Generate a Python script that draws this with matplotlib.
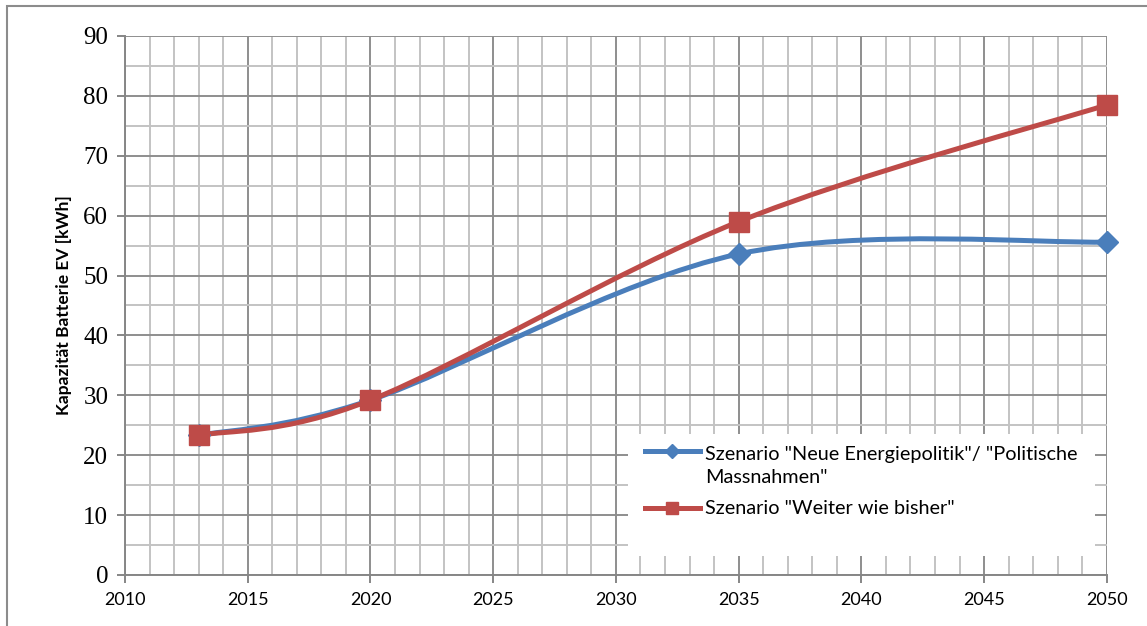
import matplotlib
matplotlib.use("Agg")
import matplotlib.pyplot as plt
from matplotlib.path import Path
from matplotlib.patches import PathPatch, Rectangle
from matplotlib.lines import Line2D

years = [2013, 2020, 2035, 2050]
neue_energiepolitik = [23.3, 29.2, 53.6, 55.6]
weiter_wie_bisher = [23.3, 29.2, 59.0, 78.5]

label_blue = 'Szenario "Neue Energiepolitik"/ "Politische\nMassnahmen"'
label_red = 'Szenario "Weiter wie bisher"'

blue = "#4a7ebb"
red = "#be4b48"


def smooth_path(xs, ys):
    # Excel-style smoothed line: cubic bezier through every point
    pts = list(zip(xs, ys))
    n = len(pts)
    verts = [pts[0]]
    codes = [Path.MOVETO]
    for i in range(n - 1):
        p0 = pts[i - 1] if i > 0 else pts[i]
        p1 = pts[i]
        p2 = pts[i + 1]
        p3 = pts[i + 2] if i + 2 < n else pts[i + 1]
        c1 = (p1[0] + (p2[0] - p0[0]) / 6, p1[1] + (p2[1] - p0[1]) / 6)
        c2 = (p2[0] - (p3[0] - p1[0]) / 6, p2[1] - (p3[1] - p1[1]) / 6)
        verts += [c1, c2, p2]
        codes += [Path.CURVE4] * 3
    return Path(verts, codes)


fig = plt.figure(figsize=(11.47, 6.26), dpi=100)
ax = fig.add_axes([0.109, 0.0815, 0.856, 0.861])

# chart area border
fig.patches.append(Rectangle((0.006, -0.05), 1.05, 1.04, transform=fig.transFigure,
                             fill=False, edgecolor="#8c8c8c", linewidth=1.5))

ax.set_xlim(2010, 2050)
ax.set_ylim(0, 90)
ax.set_xticks(range(2010, 2051, 5))
ax.set_xticks(range(2010, 2051, 1), minor=True)
ax.set_yticks(range(0, 91, 10))
ax.set_yticks(range(0, 91, 5), minor=True)

ax.grid(which="minor", color="#c3c3c3", linewidth=1.4)
ax.grid(which="major", color="#8e8e8e", linewidth=1.4)
ax.set_axisbelow(True)

for s in ["top", "right"]:
    ax.spines[s].set_visible(False)
for s in ["left", "bottom"]:
    ax.spines[s].set_color("#868686")
    ax.spines[s].set_linewidth(1.4)

ax.tick_params(which="major", length=6, width=1.4, color="#868686")
ax.tick_params(which="minor", length=0)
ax.tick_params(axis="x", labelsize=13, pad=6)
ax.tick_params(axis="y", labelsize=18, pad=6)
for t in ax.get_xticklabels():
    t.set_fontfamily("Lato")
for t in ax.get_yticklabels():
    t.set_fontfamily("Liberation Serif")

ax.set_ylabel("Kapazität Batterie EV [kWh]", fontsize=12.5, fontweight="bold",
              fontfamily="Lato", labelpad=8)

ax.add_patch(PathPatch(smooth_path(years, neue_energiepolitik), fill=False,
                       edgecolor=blue, linewidth=3.6, capstyle="round", zorder=3))
ax.add_patch(PathPatch(smooth_path(years, weiter_wie_bisher), fill=False,
                       edgecolor=red, linewidth=3.6, capstyle="round", zorder=4))
ax.plot(years, neue_energiepolitik, linestyle="none", marker="D", markersize=11,
        color=blue, zorder=5, clip_on=False)
ax.plot(years, weiter_wie_bisher, linestyle="none", marker="s", markersize=15,
        color=red, zorder=6, clip_on=False)

# legend box (white area over the grid)
ax.add_patch(Rectangle((0.512, 0.035), 0.476, 0.226, transform=ax.transAxes,
                       facecolor="white", edgecolor="none", zorder=2))
ax.add_line(Line2D([0.5295, 0.5855], [0.230, 0.230], transform=ax.transAxes,
                   color=blue, linewidth=3.6, zorder=3))
ax.add_line(Line2D([0.557], [0.230], transform=ax.transAxes, color=blue,
                   marker="D", markersize=7, zorder=3))
ax.add_line(Line2D([0.5295, 0.5855], [0.1243, 0.1243], transform=ax.transAxes,
                   color=red, linewidth=3.6, zorder=3))
ax.add_line(Line2D([0.557], [0.1243], transform=ax.transAxes, color=red,
                   marker="s", markersize=9, zorder=3))
ax.text(0.5906, 0.1707, label_blue, transform=ax.transAxes, va="baseline",
        ha="left", fontsize=14.3, fontfamily="Lato", linespacing=1.45, zorder=3)
ax.text(0.5906, 0.1132, label_red, transform=ax.transAxes, va="baseline",
        ha="left", fontsize=14.3, fontfamily="Lato", zorder=3)

fig.savefig("out.png", dpi=100)
